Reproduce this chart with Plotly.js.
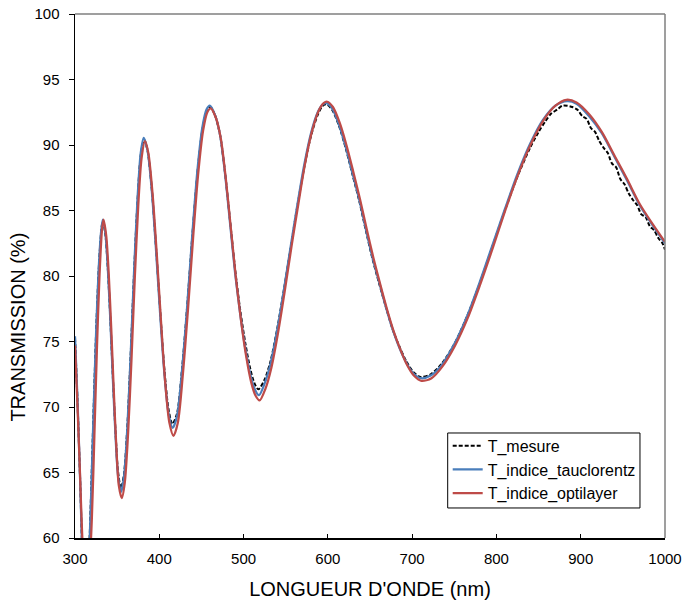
<!DOCTYPE html>
<html>
<head>
<meta charset="utf-8">
<script src="https://cdn.plot.ly/plotly-3.0.1.min.js"></script>
<style>html,body{margin:0;padding:0;background:#fff;}#chart{width:682px;height:600px;}</style>
</head>
<body>
<div id="chart"></div>
<script>
// Series names
const seriesNames = ["T_mesure", "T_indice_tauclorentz", "T_indice_optilayer"];

// T_mesure (measured) — wavelength (nm) and transmission (%)
const lamMesure = [300,303,306,309,312.5,316,319,322,325,328,331,333,336,339,342,345,348,351,354.5,358,362,366,370,374,378,382,386,391,396,401,406,411,415.5,421,427,433,439,445,451,456,460.5,466,472,478,484,490,496,502,508,513,517.5,525,532,540,548,556,564,572,580,588,594,598.5,605,613,621,629,637,645,653,661,669,677,685,693,701,710,722,735,750,765,780,795,810,825,840,850,858,865,872,878,884,890,896,902,907,912,917,922,927,932,937,942,947,952,957,962,967,972,977,982,987,992,997,1000];
const tMesure = [75.3,70.4,64.6,58.6,55.5,58.0,63.2,69.6,75.6,80.3,83.3,84.2,83.2,80.5,76.6,72.2,68.2,65.1,63.8,64.8,68.4,73.9,80.1,85.5,89.2,90.4,89.6,86.7,82.3,77.4,72.9,69.8,68.7,69.5,72.9,77.6,82.9,87.7,91.1,92.5,92.9,92.3,90.8,87.9,84.2,80.5,77.4,74.9,72.9,71.8,71.35,72.1,73.5,76.0,79.0,82.2,85.4,88.3,90.7,92.3,93.0,93.1,92.7,91.5,89.8,87.8,85.8,83.5,81.3,79.4,77.6,75.9,74.6,73.5,72.7,72.3,72.5,73.3,74.8,76.9,79.4,82.2,85.0,87.6,89.8,91.0,91.8,92.4,92.7,93.0,93.0,92.9,92.7,92.2,92.0,91.3,91.0,90.3,89.8,89.4,88.6,88.3,87.4,87.0,86.3,85.8,85.4,84.7,84.5,83.8,83.5,82.9,82.5,82.0];

// T_indice_tauclorentz
const lamTauc = [300,303,306,309,312.5,316,319,322,325,328,331,333,336,339,342,345,348,351,354.5,358,362,366,370,374,378,381.5,386,391,396,401,406,411,415.8,421,427,433,439,445,451,456,460,466,472,478,484,490,496,502,508,513,518.3,525,532,540,548,556,564,572,580,588,594,598.5,605,613,621,629,637,645,653,661,669,677,685,693,701,710.5,722,735,750,765,780,795,810,825,840,855,870,884,895,910,925,940,955,970,985,1000];
const tTauc = [75.4,70.5,64.6,58.4,55.2,57.8,63.0,69.5,75.6,80.4,83.4,84.3,83.3,80.5,76.5,72.0,67.9,64.8,63.5,64.6,68.3,73.9,80.2,85.7,89.4,90.55,89.6,86.6,82.1,77.1,72.6,69.5,68.4,69.3,72.8,77.6,83.0,87.9,91.3,92.7,93.0,92.3,90.8,87.8,84.0,80.2,77.1,74.5,72.5,71.4,70.9,71.8,73.3,75.9,79.0,82.3,85.5,88.5,90.9,92.5,93.1,93.2,92.8,91.6,89.9,87.9,85.9,83.6,81.4,79.5,77.6,75.9,74.5,73.4,72.6,72.2,72.4,73.2,74.8,76.9,79.5,82.3,85.1,87.8,90.1,91.9,93.0,93.35,93.15,92.2,90.9,89.1,87.3,85.4,83.9,82.5];

// T_indice_optilayer
const lamOpti = [300,303,306,309,313.5,317,320,323,326,329,332,333.8,337,340,343,346,349,352,355.5,359,363,367,371,375,379,383,387,392,397,402,407,412,416.8,422,428,434,440,446,452,457,461,467,473,479,485,491,497,503,509,514,519,526,533,541,549,557,565,573,581,589,595,599.3,606,614,622,630,638,646,654,662,670,678,686,694,702,711,723,736,751,766,781,796,811,826,841,856,870,883,895,910,925,940,955,970,985,1000];
const tOpti = [74.7,70.0,64.8,59.6,55.5,57.6,61.5,67.8,74.4,79.9,83.5,84.3,83.1,80.2,76.0,71.3,67.0,64.0,63.05,64.2,68.0,73.6,79.9,85.3,89.0,90.3,89.4,86.3,81.7,76.6,71.9,68.8,67.8,68.8,72.5,77.4,82.8,87.7,91.1,92.5,92.8,92.1,90.5,87.4,83.6,79.8,76.6,73.9,71.9,70.9,70.5,71.4,73.0,75.7,78.9,82.3,85.5,88.6,91.0,92.6,93.2,93.3,92.9,91.7,90.0,88.0,85.9,83.6,81.4,79.4,77.5,75.8,74.4,73.2,72.4,72.0,72.2,73.1,74.7,76.8,79.4,82.2,85.1,87.8,90.1,91.9,93.0,93.45,93.25,92.35,91.0,89.2,87.4,85.5,84.0,82.6];

// Axis ticks
const xTicks = [300,400,500,600,700,800,900,1000];
const yTicks = [60,65,70,75,80,85,90,95,100];

// Axis titles
const xTitle = "LONGUEUR D'ONDE (nm)";
const yTitle = "TRANSMISSION (%)";

const FONT = "Liberation Sans, Arial, sans-serif";

const traces = [
  {x: lamMesure, y: tMesure, name: seriesNames[0], type: "scatter", mode: "lines",
   line: {color: "#000000", width: 2, dash: "4px,2px", shape: "spline", smoothing: 0.8}},
  {x: lamTauc, y: tTauc, name: seriesNames[1], type: "scatter", mode: "lines",
   line: {color: "#4A7EBB", width: 2.25, shape: "spline", smoothing: 0.8}},
  {x: lamOpti, y: tOpti, name: seriesNames[2], type: "scatter", mode: "lines",
   line: {color: "#BE4B48", width: 2.25, shape: "spline", smoothing: 0.8}}
];

const layout = {
  width: 682, height: 600,
  margin: {l: 75, r: 17, t: 14, b: 62},
  paper_bgcolor: "#ffffff", plot_bgcolor: "#ffffff",
  font: {family: FONT, size: 15, color: "#000000"},
  showlegend: true,
  legend: {
    x: 0.6317, y: 0.2085, xanchor: "left", yanchor: "top",
    bgcolor: "rgba(0,0,0,0)", borderwidth: 0,
    font: {family: FONT, size: 16, color: "#000000"},
    itemwidth: 30, tracegroupgap: 0
  },
  xaxis: {
    range: [300, 1000], tickvals: xTicks, ticktext: xTicks.map(String),
    showgrid: false, zeroline: false,
    showline: true, linecolor: "#000000", linewidth: 1.5,
    ticks: "inside", ticklen: 4, tickcolor: "#000000", tickwidth: 1,
    ticklabelstandoff: 6, ticklabeloverflow: "allow",
    tickfont: {family: FONT, size: 15, color: "#000000"},
    title: {text: xTitle, font: {family: FONT, size: 20, color: "#000000"}, standoff: 16},
    automargin: false
  },
  yaxis: {
    range: [60, 100], tickvals: yTicks, ticktext: yTicks.map(String),
    showgrid: false, zeroline: false,
    showline: true, linecolor: "#000000", linewidth: 1.5,
    ticks: "outside", ticklen: 5, tickcolor: "#000000", tickwidth: 1,
    ticklabelstandoff: 6,
    tickfont: {family: FONT, size: 15, color: "#000000"},
    automargin: false
  },
  annotations: [
    {text: yTitle, xref: "paper", yref: "paper", x: -0.097, y: 0.403,
     xanchor: "center", yanchor: "middle", textangle: -90, showarrow: false,
     font: {family: FONT, size: 20, color: "#000000"}}
  ],
  shapes: [
    {type: "line", xref: "paper", yref: "paper", x0: 0, x1: 1, y0: 1, y1: 1, line: {color: "#7f7f7f", width: 1.5}},
    {type: "line", xref: "paper", yref: "paper", x0: 1, x1: 1, y0: 0, y1: 1, line: {color: "#7f7f7f", width: 1.5}},
    {type: "rect", xref: "paper", yref: "paper", x0: 0.6317, x1: 0.9576, y0: 0.0573, y1: 0.2004,
     layer: "above", fillcolor: "#ffffff", line: {color: "#000000", width: 1}}
  ]
};

Plotly.newPlot("chart", traces, layout, {displayModeBar: false, staticPlot: true});
</script>
</body>
</html>
